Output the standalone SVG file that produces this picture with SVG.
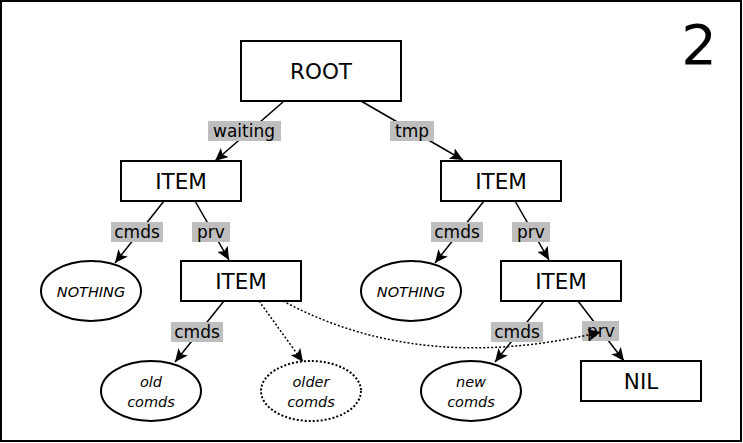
<svg xmlns="http://www.w3.org/2000/svg" width="743" height="443" viewBox="0 0 743 443">
<defs>
<style>
.box{fill:#fff;stroke:#000;stroke-width:2}
.ell{fill:#fff;stroke:#000;stroke-width:2}
.dot{fill:#fff;stroke:#000;stroke-width:2;stroke-dasharray:2,2}
.t{font-family:"DejaVu Sans",sans-serif;font-size:21.5px;text-anchor:middle;fill:#000}
.it{font-family:"DejaVu Sans",sans-serif;font-size:14.5px;font-style:italic;text-anchor:middle;fill:#000}
.lb{font-family:"DejaVu Sans",sans-serif;font-size:17px;text-anchor:middle;fill:#000}
.lbg{fill:#bebebe}
.e{stroke:#000;stroke-width:1.5;fill:none;marker-end:url(#ah)}
.ed{stroke:#000;stroke-width:1.5;fill:none;stroke-dasharray:2,2;marker-end:url(#ah)}
</style>
<marker id="ah" markerWidth="14" markerHeight="12" viewBox="0 0 14 12" refX="13" refY="6" orient="auto" markerUnits="userSpaceOnUse">
<path d="M0,0 L13,6 L0,12 L3,6 Z" fill="#000"/>
</marker>
</defs>
<rect x="1" y="1" width="740" height="440" fill="#fff" stroke="#000" stroke-width="2"/>
<text x="699" y="64" font-family="DejaVu Sans,sans-serif" font-size="56" text-anchor="middle">2</text>
<g id="connectors">
<line class="e" x1="283" y1="102" x2="215" y2="161"/>
<line class="e" x1="361" y1="101" x2="463" y2="160"/>
<line class="e" x1="164" y1="201" x2="115" y2="263"/>
<line class="e" x1="195" y1="201" x2="229" y2="260"/>
<line class="e" x1="224" y1="301" x2="175" y2="362"/>
<line class="ed" x1="259" y1="301" x2="303" y2="362"/>
<line class="e" x1="484" y1="201" x2="435" y2="263"/>
<line class="e" x1="515" y1="201" x2="549" y2="260"/>
<line class="e" x1="544" y1="301" x2="495" y2="362"/>
<line class="e" x1="578" y1="301" x2="624" y2="361"/>
<rect class="lbg" x="208" y="121" width="73" height="20"/><text class="lb" x="244" y="137">waiting</text>
<rect class="lbg" x="390" y="121" width="44" height="20"/><text class="lb" x="412" y="137">tmp</text>
<rect class="lbg" x="111" y="222" width="52" height="20"/><text class="lb" x="137" y="238">cmds</text>
<rect class="lbg" x="192" y="222" width="38" height="20"/><text class="lb" x="211" y="238">prv</text>
<rect class="lbg" x="171" y="322" width="52" height="20"/><text class="lb" x="197" y="338">cmds</text>
<rect class="lbg" x="431" y="222" width="52" height="20"/><text class="lb" x="457" y="238">cmds</text>
<rect class="lbg" x="512" y="222" width="38" height="20"/><text class="lb" x="531" y="238">prv</text>
<rect class="lbg" x="491" y="322" width="52" height="20"/><text class="lb" x="517" y="338">cmds</text>
<rect class="lbg" x="582" y="321" width="37" height="20"/><text class="lb" x="601" y="337">prv</text>
<path class="ed" d="M283,301 Q420,375 601,332"/>
</g>
<g id="root"><rect class="box" x="241" y="41" width="160" height="60"/><text class="t" x="321" y="79">ROOT</text></g>
<g id="item1"><rect class="box" x="121" y="161" width="120" height="40"/><text class="t" x="181" y="189">ITEM</text></g>
<g id="item2"><rect class="box" x="441" y="161" width="120" height="40"/><text class="t" x="501" y="189">ITEM</text></g>
<g id="item3"><rect class="box" x="181" y="261" width="120" height="40"/><text class="t" x="241" y="289">ITEM</text></g>
<g id="item4"><rect class="box" x="501" y="261" width="120" height="40"/><text class="t" x="561" y="289">ITEM</text></g>
<g id="nil"><rect class="box" x="581" y="361" width="120" height="40"/><text class="t" x="641" y="389">NIL</text></g>
<g id="nothing1"><ellipse class="ell" cx="91" cy="291" rx="50" ry="30"/><text class="it" x="91" y="297">NOTHING</text></g>
<g id="nothing2"><ellipse class="ell" cx="411" cy="291" rx="50" ry="30"/><text class="it" x="411" y="297">NOTHING</text></g>
<g id="oldcomds"><ellipse class="ell" cx="151" cy="391" rx="50" ry="30"/><text class="it" x="151" y="387">old</text><text class="it" x="151" y="407">comds</text></g>
<g id="oldercomds"><ellipse class="dot" cx="311" cy="391" rx="50" ry="30"/><text class="it" x="311" y="387">older</text><text class="it" x="311" y="407">comds</text></g>
<g id="newcomds"><ellipse class="ell" cx="471" cy="391" rx="50" ry="30"/><text class="it" x="471" y="387">new</text><text class="it" x="471" y="407">comds</text></g>
</svg>
